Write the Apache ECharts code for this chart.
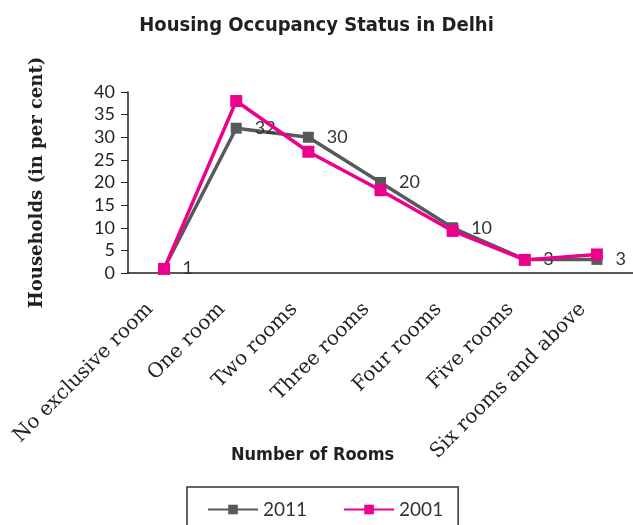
<!DOCTYPE html>
<html>
<head>
<meta charset="utf-8">
<script src="https://cdn.jsdelivr.net/npm/echarts@6/dist/echarts.min.js"></script>
<style>
  html, body { margin: 0; padding: 0; background: #fff; }
  #main { width: 633px; height: 525px; }
</style>
</head>
<body>
<div id="main"></div>
<script>
// categories on the x axis
var rooms = ['No exclusive room', 'One room', 'Two rooms', 'Three rooms',
             'Four rooms', 'Five rooms', 'Six rooms and above'];
// per cent of households
var y2011 = [1, 32, 30, 20, 10, 3, 3];
var y2001 = [0.9, 38, 26.8, 18.3, 9.3, 2.9, 4.1];

var myChart = echarts.init(document.getElementById('main'));
var option = {
    animation: false,
    title: [
        {
            text: 'Housing Occupancy Status in Delhi',
            left: 'center',
            top: 11,
            padding: [5, 0, 5, 8],
            textStyle: {
                fontFamily: "'Liberation Sans Narrow', 'DejaVu Sans Condensed', Roboto, sans-serif",
                fontWeight: 'bold',
                fontSize: 20,
                color: '#231f20'
            }
        },
        {
            // x axis title sits left of the plot centre in the original
            text: 'Number of Rooms',
            left: 226,
            top: 441,
            textStyle: {
                fontFamily: "'Liberation Sans Narrow', 'DejaVu Sans Condensed', Roboto, sans-serif",
                fontWeight: 'bold',
                fontSize: 18,
                color: '#231f20'
            }
        }
    ],
    legend: {
        data: ['2011', '2001'],
        left: 187,
        top: 487,
        padding: [13, 15, 30, 20],
        borderColor: '#333',
        borderWidth: 1.5,
        itemWidth: 50,
        itemHeight: 12,
        itemGap: 36,
        textStyle: { fontFamily: 'Lato', fontSize: 19, color: '#333' }
    },
    grid: { left: 128, right: -2, top: 92, bottom: 252 },
    xAxis: {
        type: 'category',
        data: rooms,
        axisLine: { lineStyle: { color: '#231f20', width: 1.5 } },
        axisTick: { length: 5, lineStyle: { color: '#231f20' } },
        axisLabel: {
            rotate: 45,
            interval: 0,
            margin: 19,
            padding: [0, 20, 0, 0],
            fontFamily: 'DejaVu Serif',
            fontSize: 20,
            color: '#231f20'
        }
    },
    yAxis: {
        type: 'value',
        min: 0,
        max: 40,
        interval: 5,
        name: 'Households (in per cent)',
        nameLocation: 'middle',
        nameGap: 82,
        nameTextStyle: {
            fontFamily: 'DejaVu Serif',
            fontWeight: 'bold',
            fontSize: 18,
            color: '#231f20'
        },
        splitLine: { show: false },
        axisLine: { show: true, lineStyle: { color: '#231f20', width: 1.5 } },
        axisTick: { show: true, length: 7, lineStyle: { color: '#231f20' } },
        axisLabel: { margin: 13, fontFamily: 'Lato', fontSize: 18, color: '#231f20' }
    },
    series: [
        {
            name: '2011',
            type: 'line',
            data: y2011,
            symbol: 'rect',
            symbolSize: 11,
            color: '#58595b',
            lineStyle: { width: 3.5, color: '#58595b' },
            label: {
                show: true,
                position: 'right',
                distance: 13,
                fontFamily: 'Lato',
                fontSize: 18,
                color: '#333'
            },
            z: 2
        },
        {
            name: '2001',
            type: 'line',
            data: y2001,
            symbol: 'rect',
            symbolSize: 12,
            color: '#ec008c',
            lineStyle: { width: 3.5, color: '#ec008c' },
            z: 3
        }
    ]
};
myChart.setOption(option);
</script>
</body>
</html>
